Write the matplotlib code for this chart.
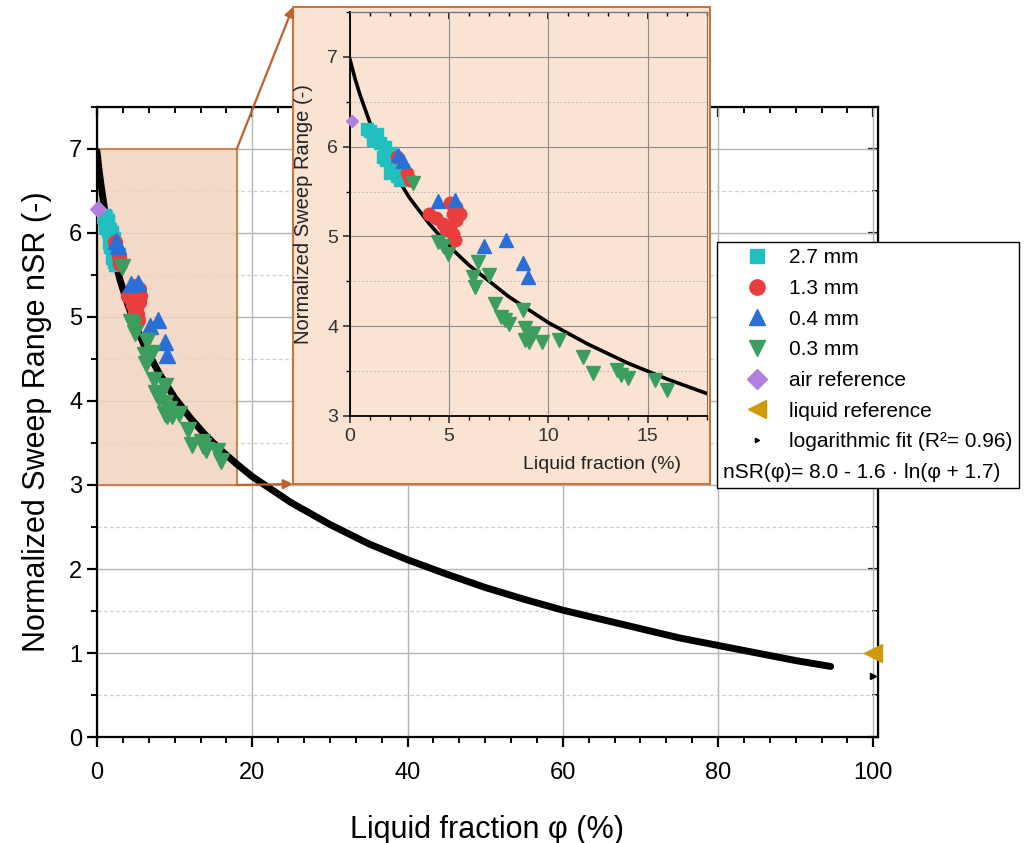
import numpy as np
import matplotlib
matplotlib.use("Agg")
import matplotlib.pyplot as plt
from matplotlib.lines import Line2D
from matplotlib.patches import Rectangle, ConnectionPatch
from matplotlib.ticker import MultipleLocator, AutoMinorLocator

plt.rcParams['font.family'] = ['Liberation Sans', 'DejaVu Sans']

# ---- data ----
x_27 = [0.84, 1.0, 1.17, 1.26, 1.34, 1.5, 1.67, 1.76, 1.84, 2.0, 2.0, 2.18, 2.35, 2.5, 2.68]
y_27 = [6.20, 6.18, 6.07, 6.12, 6.14, 6.04, 5.89, 6.00, 5.85, 5.93, 5.71, 5.78, 5.67, 5.63, 5.74]

x_13 = [2.35, 2.85, 3.0, 4.0, 4.36, 4.7, 4.86, 5.03, 5.03, 5.2, 5.2, 5.28, 5.36, 5.36, 5.53]
y_13 = [5.89, 5.71, 5.63, 5.25, 5.21, 5.14, 5.07, 5.37, 5.10, 5.25, 5.03, 4.96, 5.18, 5.33, 5.25]

x_04 = [2.43, 2.68, 4.44, 5.28, 6.78, 7.87, 8.71, 8.96]
y_04 = [5.91, 5.84, 5.39, 5.41, 4.89, 4.96, 4.70, 4.55]

x_03 = [3.18, 4.44, 4.69, 4.94, 6.2, 6.28, 6.45, 7.03, 7.29, 7.62, 7.79, 8.04, 8.71, 8.8, 8.8,
        9.04, 9.21, 9.7, 10.55, 11.73, 12.23, 13.48, 13.65, 14.0, 15.4, 16.0]
y_03 = [5.60, 4.94, 4.89, 4.81, 4.55, 4.44, 4.72, 4.57, 4.25, 4.10, 4.07, 4.03, 4.18, 3.98, 3.85,
        3.82, 3.91, 3.82, 3.85, 3.66, 3.48, 3.51, 3.46, 3.42, 3.40, 3.29]

x_air = [0.1]
y_air = [6.29]
x_liq = [100]
y_liq = [1.0]

fit_x = [0, 0.25, 0.5, 1, 1.5, 2, 3, 4, 5, 6, 8, 10, 12, 14, 16, 18, 20, 25, 30, 35, 40,
         45, 50, 55, 60, 65, 70, 75, 80, 85, 90, 94.5]
fit_y = [6.97, 6.76, 6.58, 6.27, 6.01, 5.79, 5.43, 5.14, 4.89, 4.68, 4.33, 4.04, 3.80, 3.59,
         3.41, 3.25, 3.10, 2.79, 2.53, 2.30, 2.11, 1.94, 1.78, 1.64, 1.51, 1.40, 1.29, 1.18,
         1.09, 1.00, 0.91, 0.84]
fit_end_x = [100]
fit_end_y = [0.73]

c_27 = '#22bfbf'
c_13 = '#ea3d3d'
c_04 = '#2a6fd6'
c_03 = '#3c9e5e'
c_air = '#b07fe0'
c_liq = '#cf9a08'
peach = '#fbe3d3'
brown = '#c8773a'

W, H = 1036, 843
fig = plt.figure(figsize=(W / 100, H / 100), dpi=100)

# ---- main axes ----
ax = fig.add_axes([97 / W, 1 - 737 / H, 781 / W, 630 / H])
ax.set_xlim(0, 100.6)
ax.set_ylim(0, 7.5)
ax.xaxis.set_major_locator(MultipleLocator(20))
ax.xaxis.set_minor_locator(AutoMinorLocator(6))
ax.yaxis.set_major_locator(MultipleLocator(1))
ax.yaxis.set_minor_locator(MultipleLocator(0.5))
ax.set_axisbelow(True)
ax.grid(which='major', color='#b4b4b4', lw=1.0)
ax.grid(which='minor', axis='y', color='#cfcfcf', lw=0.9, ls=(0, (3, 2)))
for s in ax.spines.values():
    s.set_linewidth(1.6)
ax.tick_params(which='major', direction='out', length=7, width=1.6, labelsize=17)
ax.tick_params(which='minor', direction='out', length=4, width=1.4)
ax.tick_params(axis='x', pad=11)

top = ax.secondary_xaxis('top')
top.xaxis.set_major_locator(MultipleLocator(20))
top.xaxis.set_minor_locator(AutoMinorLocator(6))
top.tick_params(which='major', direction='in', length=7, width=1.6, labeltop=False)
top.tick_params(which='minor', direction='in', length=4, width=1.4)
right = ax.secondary_yaxis('right')
right.yaxis.set_major_locator(MultipleLocator(1))
right.yaxis.set_minor_locator(MultipleLocator(0.5))
right.tick_params(which='major', direction='in', length=7, width=1.6, labelright=False)
right.tick_params(which='minor', direction='in', length=4, width=1.4)

ax.add_patch(Rectangle((0, 3), 18, 4, fc='#f0d3bf', ec=brown, lw=1.5, alpha=0.85, zorder=1))

ax.plot(fit_x, fit_y, color='black', lw=5, zorder=3, solid_capstyle='round')
ax.plot(x_27, y_27, 's', color=c_27, ms=10, zorder=4)
ax.plot(x_13, y_13, 'o', color=c_13, ms=10, zorder=4)
ax.plot(x_04, y_04, '^', color=c_04, ms=11, zorder=4)
ax.plot(x_03, y_03, 'v', color=c_03, ms=11, zorder=4)
ax.plot(x_air, y_air, 'D', color=c_air, ms=8, zorder=4, clip_on=False)
ax.plot(x_liq, y_liq, '<', color=c_liq, ms=13, zorder=4, clip_on=False)
ax.plot(fit_end_x, fit_end_y, '>', color='black', ms=4, zorder=4, clip_on=False)

ax.set_xlabel('Liquid fraction φ (%)', fontsize=22, labelpad=22)
ax.set_ylabel('Normalized Sweep Range nSR (-)', fontsize=22, labelpad=12)

# ---- inset box ----
box_l, box_r, box_t, box_b = 293, 710, 7, 484
fig.add_artist(Rectangle((box_l / W, 1 - box_b / H), (box_r - box_l) / W, (box_b - box_t) / H,
                         transform=fig.transFigure, fc=peach, ec=brown, lw=1.5, zorder=1))

for (xa, ya), (xb, yb) in [((18, 7), (box_l, box_t)), ((18, 3), (box_l, box_b))]:
    con = ConnectionPatch(xyA=(xa, ya), coordsA=ax.transData,
                          xyB=(xb / W, 1 - yb / H), coordsB=fig.transFigure,
                          arrowstyle='-|>', color='#c0602a', lw=1.6, mutation_scale=14,
                          zorder=2)
    fig.add_artist(con)

ins = fig.add_axes([350 / W, 1 - 416 / H, 357 / W, 404 / H], zorder=3)
ins.set_facecolor(peach)
ins.set_xlim(0, 18)
ins.set_ylim(3, 7.5)
ins.xaxis.set_major_locator(MultipleLocator(5))
ins.xaxis.set_minor_locator(MultipleLocator(1))
ins.yaxis.set_major_locator(MultipleLocator(1))
ins.yaxis.set_minor_locator(MultipleLocator(0.5))
ins.set_axisbelow(True)
ins.grid(which='major', color='#8c8c8c', lw=0.8)
ins.grid(which='minor', axis='y', color='#bdbdbd', lw=0.7, ls=(0, (2, 2)))
for side in ['left', 'bottom']:
    ins.spines[side].set_linewidth(1.3)
for side in ['top', 'right']:
    ins.spines[side].set_color('#777777')
    ins.spines[side].set_linewidth(0.8)
ins.tick_params(which='major', direction='out', length=5, width=1.2, labelsize=14,
                colors='#333333', top=False)
ins.tick_params(which='minor', direction='out', length=3, width=1.0)
ins_top = ins.secondary_xaxis('top')
ins_top.xaxis.set_major_locator(MultipleLocator(5))
ins_top.xaxis.set_minor_locator(MultipleLocator(1))
ins_top.tick_params(which='major', direction='in', length=5, width=1.2, labeltop=False)
ins_top.tick_params(which='minor', direction='in', length=3, width=1.0)
ins_top.spines['top'].set_linewidth(0.8)

ins.plot(fit_x, fit_y, color='black', lw=2.6, zorder=3)
ins.plot(x_27, y_27, 's', color=c_27, ms=9, zorder=4)
ins.plot(x_13, y_13, 'o', color=c_13, ms=9, zorder=4)
ins.plot(x_04, y_04, '^', color=c_04, ms=10, zorder=4)
ins.plot(x_03, y_03, 'v', color=c_03, ms=10, zorder=4)
ins.plot(x_air, y_air, 'D', color=c_air, ms=6, zorder=4, clip_on=False)

ins.set_xlabel('Liquid fraction (%)', fontsize=14, color='#222222')
ins.xaxis.set_label_coords(0.706, -0.10)
ins.set_ylabel('Normalized Sweep Range (-)', fontsize=14.5, color='#222222')
ins.yaxis.set_label_coords(-0.105, 0.5)

# ---- legend ----
handles = [
    Line2D([], [], marker='s', color=c_27, ls='none', ms=10),
    Line2D([], [], marker='o', color=c_13, ls='none', ms=11),
    Line2D([], [], marker='^', color=c_04, ls='none', ms=11),
    Line2D([], [], marker='v', color=c_03, ls='none', ms=11),
    Line2D([], [], marker='D', color=c_air, ls='none', ms=10),
    Line2D([], [], marker='<', color=c_liq, ls='none', ms=13),
    Line2D([], [], marker='>', color='black', ls='none', ms=3),
]
labels = ['2.7 mm', '1.3 mm', '0.4 mm', '0.3 mm', 'air reference', 'liquid reference',
          'logarithmic fit (R²= 0.96)']
leg = fig.legend(handles, labels, loc='upper left', bbox_to_anchor=(717 / W, 1 - 242 / H),
                 fontsize=15, title='nSR(φ)= 8.0 - 1.6 · ln(φ + 1.7)', title_fontsize=15,
                 alignment='left', frameon=True, fancybox=False, edgecolor='black',
                 framealpha=1, borderpad=0.3, labelspacing=0.56, handlelength=3.2,
                 handletextpad=-0.05, borderaxespad=0)
leg.get_frame().set_linewidth(1.0)
leg._legend_box._children.reverse()

fig.savefig('out.png', dpi=100)
